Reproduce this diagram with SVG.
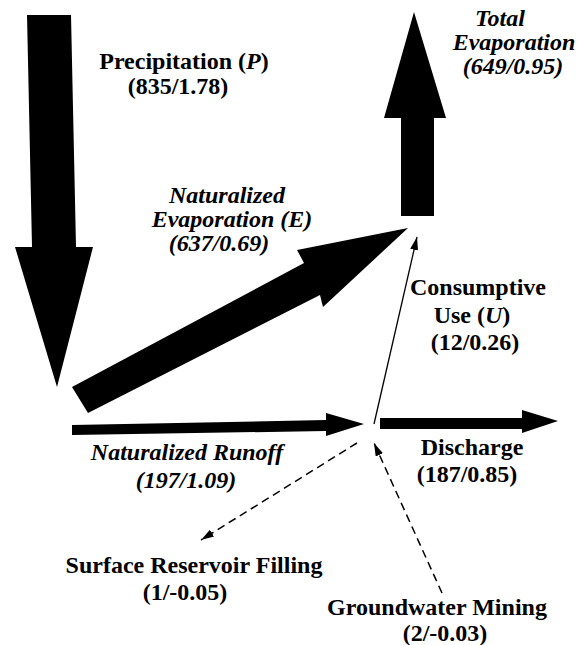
<svg xmlns="http://www.w3.org/2000/svg" width="580" height="645" viewBox="0 0 580 645">
  <style>
    text { font-family: 'Liberation Serif', 'DejaVu Serif', serif; font-weight: bold; font-size: 24px; fill: #000; text-anchor: middle; }
    .it { font-style: italic; }
    .big { fill: #000; stroke: none; }
    .thin { stroke: #000; stroke-width: 1.3; fill: none; }
    .dash { stroke: #000; stroke-width: 1.5; fill: none; stroke-dasharray: 8 5; }
  </style>
  <defs>
    <marker id="head" markerUnits="userSpaceOnUse" markerWidth="14" markerHeight="10" refX="13" refY="4" orient="auto">
      <path d="M0,0 L13,4 L0,8 z" fill="#000"/>
    </marker>
  </defs>
  <rect width="580" height="645" fill="#fff"/>

  <g id="connectors">
    <polygon id="arrow-precipitation" class="big" points="27,15 71,15 76,247 93,247 57,387 15,247 32,247"/>
    <polygon id="arrow-nat-evaporation" class="big" points="72,387 304,263 297,250 408,228 323,307 320,295 88,413"/>
    <polygon id="arrow-total-evaporation" class="big" points="401,216 401,118 384,118 414,12 446,118 434,118 434,216"/>
    <polygon id="arrow-runoff" class="big" points="72,425 326,420 326,413 364,424 326,436 326,431 72,435"/>
    <polygon id="arrow-discharge" class="big" points="380,418 522,418 522,410 558,421 522,433 522,429 380,429"/>
    <line id="arrow-consumptive" class="thin" x1="374" y1="424" x2="417" y2="237" marker-end="url(#head)"/>
    <line id="arrow-reservoir" class="dash" x1="357" y1="443" x2="201" y2="540" marker-end="url(#head)"/>
    <line id="arrow-groundwater" class="dash" x1="442" y1="593" x2="374" y2="443" marker-end="url(#head)"/>
  </g>

  <g id="precipitation">
    <text x="184" y="69">Precipitation (<tspan class="it">P</tspan>)</text>
    <text x="178" y="94">(835/1.78)</text>
  </g>
  <g id="naturalized-evaporation">
    <text class="it" x="227" y="203">Naturalized</text>
    <text class="it" x="232" y="227">Evaporation (E)</text>
    <text class="it" x="219" y="251">(637/0.69)</text>
  </g>
  <g id="total-evaporation">
    <text class="it" x="500" y="26">Total</text>
    <text class="it" x="514" y="50">Evaporation</text>
    <text class="it" x="513" y="74">(649/0.95)</text>
  </g>
  <g id="consumptive-use">
    <text x="478" y="295">Consumptive</text>
    <text x="472" y="323">Use (<tspan class="it">U</tspan>)</text>
    <text x="475" y="350">(12/0.26)</text>
  </g>
  <g id="naturalized-runoff">
    <text class="it" x="187" y="460">Naturalized Runoff</text>
    <text class="it" x="186" y="488">(197/1.09)</text>
  </g>
  <g id="discharge">
    <text x="472" y="455">Discharge</text>
    <text x="467" y="482">(187/0.85)</text>
  </g>
  <g id="surface-reservoir-filling">
    <text x="194" y="573">Surface Reservoir Filling</text>
    <text x="185" y="600">(1/-0.05)</text>
  </g>
  <g id="groundwater-mining">
    <text x="437" y="615">Groundwater Mining</text>
    <text x="445" y="641">(2/-0.03)</text>
  </g>
</svg>
